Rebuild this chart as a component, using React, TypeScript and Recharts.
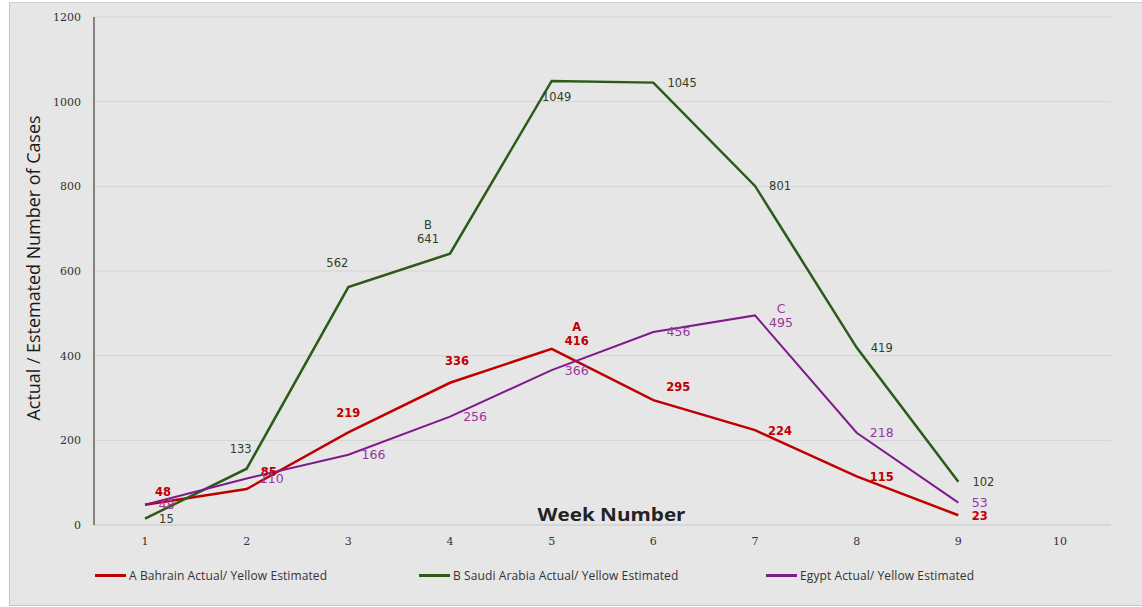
import React from "react";
import { LineChart, Line, XAxis, YAxis, CartesianGrid, Legend } from "recharts";

const weeks = [1, 2, 3, 4, 5, 6, 7, 8, 9, 10];
const bahrain = [48, 85, 219, 336, 416, 295, 224, 115, 23];
const saudi = [15, 133, 562, 641, 1049, 1045, 801, 419, 102];
const egypt = [48, 110, 166, 256, 366, 456, 495, 218, 53];
const yTicks = [0, 200, 400, 600, 800, 1000, 1200];

const bahrainNotes = ["", "", "", "", "A", "", "", "", ""];
const saudiNotes = ["", "", "", "B", "", "", "", "", ""];
const egyptNotes = ["", "", "", "", "", "", "C", "", ""];

const seriesNames = {
  bahrain: "A Bahrain Actual/ Yellow Estimated",
  saudi: "B Saudi Arabia Actual/ Yellow Estimated",
  egypt: "Egypt Actual/ Yellow Estimated",
};

const data = weeks.map((w, i) => ({
  week: w,
  bahrain: bahrain[i],
  saudi: saudi[i],
  egypt: egypt[i],
}));

const RED = "#c00000";
const GREEN = "#2b5b17";
const PURPLE = "#7f1a8a";

// label centre offsets from the point, only where they differ from "right of point"
const bahrainNudge: Record<number, [number, number]> = {
  0: [18, -12],
  1: [22, -17],
  2: [0, -19],
  3: [7, -21],
  4: [25, -7],
  5: [25, -13],
};
const saudiNudge: Record<number, [number, number]> = {
  1: [-6, -19],
  2: [-11, -24],
  3: [-22, -14],
  4: [5, 17],
};
const egyptNudge: Record<number, [number, number]> = {
  6: [26, 8],
};

const makeLabel =
  (color: string, bold: boolean, size: number, nudge: Record<number, [number, number]>, notes: string[]) =>
  (props: any) => {
    const { x, y, value, index } = props;
    if (value === undefined || value === null) return null;
    const s = String(value);
    const n = nudge[index];
    const cx = x + (n ? n[0] : 14 + s.length * 3.7);
    const cy = y + (n ? n[1] : 1);
    const note = notes[index];
    return (
      <g>
        {note ? (
          <text x={cx} y={cy - 14} textAnchor="middle" dominantBaseline="middle" fill={color} fontSize={size} fontFamily="DejaVu Sans" fontWeight={bold ? "bold" : "normal"}>
            {note}
          </text>
        ) : null}
        <text x={cx} y={cy} textAnchor="middle" dominantBaseline="middle" fill={color} fontSize={size} fontFamily="DejaVu Sans" fontWeight={bold ? "bold" : "normal"}>
          {s}
        </text>
      </g>
    );
  };

const legendItems = [
  { name: seriesNames.bahrain, color: RED, left: 95 },
  { name: seriesNames.saudi, color: GREEN, left: 419 },
  { name: seriesNames.egypt, color: PURPLE, left: 766 },
];

const LegendContent = () => (
  <div style={{ position: "relative", width: 1142, height: 40 }}>
    {legendItems.map((it) => (
      <div
        key={it.name}
        style={{
          position: "absolute",
          left: it.left,
          top: 12,
          display: "flex",
          alignItems: "center",
          fontFamily: "Open Sans",
          fontSize: 12,
          letterSpacing: 0.1,
          color: "#333",
          whiteSpace: "nowrap",
        }}
      >
        <span style={{ display: "inline-block", width: 31, height: 2.5, background: it.color, marginRight: 3 }} />
        {it.name}
      </div>
    ))}
  </div>
);

const YTitle = () => {
  const cx = 35;
  const cy = 268;
  return (
    <text
      x={cx}
      y={cy}
      transform={`rotate(-90 ${cx} ${cy})`}
      textAnchor="middle"
      dominantBaseline="middle"
      fontFamily="Open Sans"
      fontSize={18}
      fontWeight={500}
      fill="#1a1a1a"
      textLength={305}
      lengthAdjust="spacingAndGlyphs"
    >
      Actual  / Estemated Number of Cases
    </text>
  );
};

const XTitle = (props: any) => {
  const vb = props.viewBox || { x: 94, y: 525, width: 1016 };
  return (
    <text
      x={vb.x + vb.width / 2 + 9}
      y={vb.y - 9}
      textAnchor="middle"
      dominantBaseline="middle"
      fontFamily="Open Sans"
      fontWeight="bold"
      fontSize={17}
      fill="#222"
      textLength={148}
      lengthAdjust="spacingAndGlyphs"
    >
      Week Number
    </text>
  );
};

export default function App() {
  return (
    <div style={{ position: "fixed", left: 0, top: 0, width: 1142, height: 607, background: "#fff" }}>
      <div
        style={{
          position: "absolute",
          left: 9,
          top: 2,
          width: 1140,
          height: 602,
          background: "#e6e6e6",
          borderLeft: "1px solid #c4c4c4",
          borderTop: "1px solid #cfcfcf",
          borderBottom: "1px solid #c4c4c4",
        }}
      />
      <div style={{ position: "absolute", left: 0, top: 0 }}>
        <LineChart width={1142} height={607} data={data} margin={{ top: 17, right: 31, left: 0, bottom: 12 }}>
          <CartesianGrid vertical={false} stroke="#d3d3d3" strokeWidth={1} />
          <XAxis
            dataKey="week"
            type="category"
            height={30}
            padding={{ left: 51, right: 51 }}
            tickLine={false}
            tickSize={0}
            tickMargin={12}
            axisLine={{ stroke: "#d0d0d0" }}
            tick={{ fill: "#333", fontSize: 11, fontFamily: "DejaVu Serif" }}
            label={<XTitle />}
          />
          <XAxis xAxisId="top" orientation="top" dataKey="week" height={0} tick={false} tickLine={false} axisLine={{ stroke: "#8a8a8a", strokeWidth: 1.5 }} />
          <YAxis
            domain={[0, 1200]}
            ticks={yTicks}
            width={94}
            tickLine={false}
            tickSize={0}
            tickMargin={13}
            axisLine={{ stroke: "#404040", strokeWidth: 1.2 }}
            tick={{ fill: "#333", fontSize: 11, fontFamily: "DejaVu Serif" }}
            label={<YTitle />}
          />
          <YAxis yAxisId="right" orientation="right" domain={[0, 1200]} width={0} tick={false} tickLine={false} axisLine={{ stroke: "#7a7a7a", strokeWidth: 2 }} />
          <Legend verticalAlign="bottom" wrapperStyle={{ left: 0, width: 1142, height: 40 }} content={<LegendContent />} />
          <Line
            name={seriesNames.bahrain}
            dataKey="bahrain"
            stroke={RED}
            strokeWidth={2.5}
            dot={false}
            isAnimationActive={false}
            label={makeLabel(RED, true, 11.5, bahrainNudge, bahrainNotes)}
          />
          <Line
            name={seriesNames.saudi}
            dataKey="saudi"
            stroke={GREEN}
            strokeWidth={2.5}
            dot={false}
            isAnimationActive={false}
            label={makeLabel("#2f3f27", false, 11.5, saudiNudge, saudiNotes)}
          />
          <Line
            name={seriesNames.egypt}
            dataKey="egypt"
            stroke={PURPLE}
            strokeWidth={2}
            dot={false}
            isAnimationActive={false}
            label={makeLabel("#9a35a0", false, 12.5, egyptNudge, egyptNotes)}
          />
        </LineChart>
      </div>
    </div>
  );
}
